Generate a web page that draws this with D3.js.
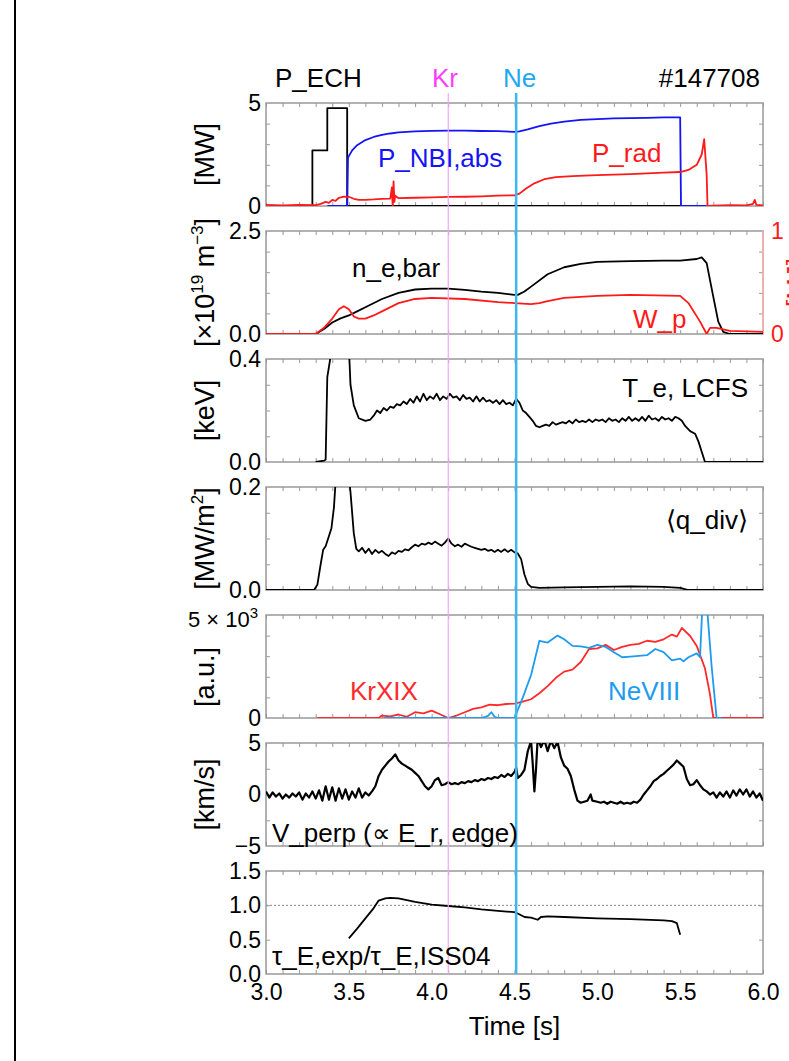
<!DOCTYPE html>
<html>
<head>
<meta charset="utf-8">
<script src="https://d3js.org/d3.v7.min.js"></script>
<style>
  body { margin: 0; background: #fff; }
  svg { display: block; font-family: "Liberation Sans", Arial, sans-serif; }
</style>
</head>
<body>
<div id="chart"></div>
<script>

// ---- data, [time (s), value] ----

const timeDomain = [3, 6];
const timeTicks = [3, 3.5, 4, 4.5, 5, 5.5, 6];
const timeTickLabels = ["3.0", "3.5", "4.0", "4.5", "5.0", "5.5", "6.0"];
const krTime = 4.1;
const neTime = 4.51;

// panel 1 [MW]
const pEch = [[3.28,0],[3.28,2.7],[3.37,2.7],[3.37,4.75],[3.49,4.75],[3.49,0],[5.5,0]];
const pNbi = [[3.37,0],[3.49,0],[3.495,2.35],[3.52,2.7],[3.55,2.95],[3.6,3.2],[3.65,3.35],[3.7,3.45],
  [3.75,3.52],[3.8,3.57],[3.9,3.62],[4.0,3.65],[4.1,3.66],[4.2,3.66],[4.3,3.64],[4.4,3.63],[4.5,3.6],
  [4.53,3.62],[4.58,3.72],[4.65,3.88],[4.72,4.0],[4.8,4.1],[4.9,4.18],[5.0,4.22],[5.1,4.25],[5.2,4.27],
  [5.3,4.28],[5.4,4.3],[5.5,4.3],[5.505,0],[5.66,0]];
const pRad = [[3.0,0.05],[3.1,0.03],[3.2,0.05],[3.3,0.04],[3.33,0.1],[3.36,0.2],[3.38,0.15],[3.4,0.3],
  [3.42,0.25],[3.44,0.4],[3.47,0.45],[3.5,0.45],[3.53,0.35],[3.56,0.3],[3.6,0.3],[3.65,0.32],[3.7,0.35],
  [3.75,0.36],[3.76,0.9],[3.765,-0.1],[3.77,1.2],[3.775,0.2],[3.78,0.5],[3.8,0.38],[3.9,0.4],[4.0,0.42],
  [4.1,0.44],[4.2,0.45],[4.3,0.47],[4.4,0.5],[4.5,0.52],[4.53,0.6],[4.57,0.85],[4.62,1.1],[4.68,1.3],
  [4.75,1.4],[4.85,1.45],[5.0,1.5],[5.1,1.52],[5.2,1.55],[5.3,1.58],[5.4,1.62],[5.5,1.65],[5.55,1.75],
  [5.6,2.0],[5.63,2.5],[5.645,3.25],[5.66,1.5],[5.665,0],[5.7,0.02],[5.8,0.04],[5.9,0.03],[5.94,0.1],
  [5.95,0.3],[5.96,0.05],[6.0,0.03]];

// panel 2 [x10^19 m^-3] and W_p (right axis)
const neBar = [[3.3,0],[3.35,0.12],[3.4,0.28],[3.45,0.38],[3.5,0.45],[3.55,0.55],[3.6,0.65],[3.7,0.85],
  [3.8,1.0],[3.9,1.08],[4.0,1.1],[4.1,1.1],[4.2,1.07],[4.3,1.03],[4.4,1.0],[4.5,0.95],[4.52,0.95],
  [4.56,1.03],[4.6,1.15],[4.7,1.45],[4.8,1.62],[4.9,1.7],[5.0,1.75],[5.2,1.77],[5.4,1.78],[5.5,1.78],
  [5.6,1.82],[5.63,1.86],[5.66,1.72],[5.7,0.9],[5.73,0.3],[5.76,0.05],[5.8,0],[6.0,0]];
const wP = [[3.0,0],[3.3,0],[3.35,0.06],[3.4,0.15],[3.44,0.24],[3.47,0.27],[3.5,0.24],[3.53,0.17],
  [3.56,0.15],[3.6,0.15],[3.65,0.18],[3.7,0.22],[3.8,0.3],[3.9,0.34],[4.0,0.35],[4.2,0.34],[4.4,0.31],
  [4.5,0.3],[4.6,0.29],[4.65,0.3],[4.7,0.32],[4.8,0.35],[5.0,0.37],[5.2,0.38],[5.5,0.37],[5.55,0.3],
  [5.62,0.12],[5.66,0.0],[5.68,0.06],[5.72,0.06],[5.8,0.03],[6.0,0.02]];

// panel 3 [keV]
const teLcfs = [[3.3,0],[3.35,0.005],[3.36,0.01],[3.37,0.33],[3.39,0.41],[3.5,0.45],[3.51,0.3],[3.53,0.22],
  [3.56,0.17],[3.6,0.16],[3.63,0.165],[3.65,0.18],[3.67,0.2],[3.69,0.19],[3.71,0.21],[3.73,0.2],[3.75,0.215],
  [3.77,0.21],[3.79,0.225],[3.81,0.22],[3.83,0.235],[3.85,0.225],[3.87,0.245],[3.89,0.23],[3.91,0.255],[3.93,0.235],
  [3.95,0.265],[3.97,0.24],[3.99,0.255],[4.01,0.245],[4.03,0.265],[4.05,0.24],[4.07,0.255],[4.09,0.245],[4.11,0.265],
  [4.13,0.25],[4.15,0.255],[4.17,0.24],[4.19,0.26],[4.21,0.245],[4.23,0.25],[4.25,0.235],[4.27,0.255],[4.29,0.235],
  [4.31,0.25],[4.33,0.235],[4.35,0.24],[4.37,0.23],[4.39,0.24],[4.41,0.225],[4.43,0.24],[4.45,0.225],[4.47,0.23],
  [4.49,0.22],[4.51,0.245],[4.53,0.23],[4.55,0.2],[4.57,0.19],[4.59,0.175],[4.61,0.16],[4.63,0.14],[4.65,0.135],
  [4.67,0.14],[4.69,0.145],[4.71,0.14],[4.73,0.155],[4.75,0.145],[4.77,0.15],[4.79,0.155],[4.81,0.15],[4.83,0.16],
  [4.85,0.15],[4.87,0.165],[4.89,0.155],[4.91,0.16],[4.93,0.155],[4.95,0.165],[4.97,0.155],[4.99,0.165],
  [5.01,0.16],[5.03,0.165],[5.05,0.155],[5.07,0.17],[5.09,0.16],[5.11,0.165],[5.13,0.155],[5.15,0.17],
  [5.17,0.16],[5.19,0.175],[5.21,0.16],[5.23,0.17],[5.25,0.16],[5.27,0.175],[5.29,0.16],[5.31,0.18],
  [5.33,0.165],[5.35,0.17],[5.37,0.16],[5.39,0.175],[5.41,0.165],[5.43,0.17],[5.45,0.16],[5.47,0.175],
  [5.49,0.17],[5.51,0.16],[5.53,0.14],[5.56,0.12],[5.59,0.11],[5.61,0.08],[5.63,0.04],[5.65,0.0],[6.0,0]];

// panel 4 [MW/m^2]
const qDiv = [[3.0,0],[3.29,0],[3.31,0.01],[3.33,0.05],[3.345,0.078],[3.36,0.085],[3.38,0.105],[3.395,0.12],
  [3.41,0.16],[3.42,0.21],[3.5,0.22],[3.51,0.19],[3.53,0.11],[3.545,0.08],[3.56,0.075],[3.58,0.082],[3.6,0.072],
  [3.62,0.08],[3.64,0.07],[3.66,0.078],[3.68,0.072],[3.7,0.076],[3.72,0.07],[3.74,0.066],[3.76,0.073],[3.78,0.07],
  [3.8,0.076],[3.82,0.074],[3.84,0.079],[3.86,0.077],[3.88,0.083],[3.9,0.088],[3.92,0.085],[3.94,0.09],[3.96,0.088],
  [3.98,0.092],[4.0,0.089],[4.02,0.094],[4.04,0.09],[4.06,0.086],[4.08,0.092],[4.1,0.1],[4.12,0.09],[4.14,0.085],
  [4.16,0.088],[4.18,0.084],[4.2,0.09],[4.22,0.087],[4.24,0.084],[4.26,0.082],[4.28,0.08],[4.3,0.078],[4.32,0.08],
  [4.34,0.076],[4.36,0.078],[4.38,0.074],[4.4,0.078],[4.42,0.074],[4.44,0.079],[4.46,0.074],[4.48,0.078],
  [4.5,0.073],[4.52,0.071],[4.54,0.06],[4.56,0.03],[4.58,0.012],[4.6,0.006],[4.65,0.004],[4.8,0.005],[5.0,0.006],
  [5.2,0.007],[5.4,0.006],[5.5,0.004],[5.55,0.0],[6.0,0]];

// panel 5 [a.u.]
const krXIX = [[3.31,0],[3.68,0],[3.7,120],[3.75,80],[3.8,170],[3.85,60],[3.9,280],[3.95,220],[4.0,360],
  [4.05,180],[4.1,0],[4.15,120],[4.2,280],[4.25,440],[4.3,520],[4.35,650],[4.4,620],[4.45,680],[4.5,700],
  [4.55,800],[4.6,910],[4.65,1200],[4.7,1550],[4.75,1950],[4.8,2250],[4.85,2350],[4.9,2720],[4.95,3350],
  [5.0,3380],[5.05,3550],[5.1,3300],[5.15,3450],[5.2,3550],[5.25,3600],[5.3,3750],[5.35,3700],[5.4,3820],
  [5.45,4050],[5.48,3950],[5.51,4370],[5.56,3980],[5.6,3500],[5.65,2400],[5.68,1150],[5.7,0],[6.0,0]];
const neVIII = [[3.71,0],[4.3,0],[4.34,100],[4.36,280],[4.38,60],[4.4,0],[4.5,0],[4.55,990],[4.6,2090],
  [4.65,3740],[4.7,3660],[4.76,4000],[4.8,3820],[4.85,3500],[4.9,3480],[4.95,3400],[5.0,3550],[5.05,3450],
  [5.1,3190],[5.15,2950],[5.2,2980],[5.3,3050],[5.35,3350],[5.4,3200],[5.45,2800],[5.5,2880],[5.52,2750],
  [5.55,2950],[5.6,3140],[5.62,2950],[5.635,5600],[5.66,5600],[5.69,2500],[5.72,0],[5.75,0]];

// panel 6 [km/s]
const vPerp = [[3.0,0.3],[3.02,-0.3],[3.04,0.2],[3.06,-0.2],[3.08,0.1],[3.1,-0.4],[3.12,0.0],[3.14,-0.3],
  [3.16,0.1],[3.18,-0.2],[3.2,0.2],[3.22,-0.5],[3.24,0.1],[3.26,-0.3],[3.28,0.3],[3.3,-0.4],[3.32,0.4],
  [3.34,-0.6],[3.36,0.8],[3.38,-0.5],[3.4,0.7],[3.42,-0.6],[3.44,0.6],[3.46,-0.4],[3.48,0.5],[3.5,-0.5],
  [3.52,0.3],[3.54,-0.3],[3.56,0.6],[3.58,-0.3],[3.6,0.2],[3.62,-0.1],[3.64,0.3],[3.66,0.8],[3.68,1.8],
  [3.7,2.4],[3.72,2.8],[3.74,3.2],[3.76,3.5],[3.78,3.9],[3.8,3.3],[3.82,3.0],[3.84,2.8],[3.86,2.6],
  [3.88,2.4],[3.9,2.1],[3.92,1.8],[3.94,1.3],[3.96,0.8],[3.98,0.5],[4.0,0.8],[4.02,1.4],[4.04,1.6],
  [4.06,0.9],[4.08,1.0],[4.1,1.2],[4.12,1.0],[4.14,1.1],[4.16,1.0],[4.18,1.2],[4.2,1.1],[4.22,1.3],
  [4.24,1.2],[4.26,1.4],[4.28,1.3],[4.3,1.5],[4.32,1.4],[4.34,1.6],[4.36,1.5],[4.38,1.7],[4.4,1.6],
  [4.42,1.9],[4.44,1.7],[4.46,2.0],[4.48,1.8],[4.5,2.2],[4.51,2.6],[4.52,1.6],[4.54,1.9],[4.56,2.4],
  [4.58,4.2],[4.6,5.2],[4.61,3.0],[4.62,0.3],[4.63,2.5],[4.64,5.5],[4.66,4.6],[4.68,5.3],[4.7,4.2],
  [4.72,5.2],[4.74,4.5],[4.76,5.1],[4.78,3.6],[4.8,2.8],[4.82,2.5],[4.84,1.8],[4.86,0.5],[4.88,-0.6],
  [4.9,-0.8],[4.92,-0.7],[4.94,-0.6],[4.96,0.0],[4.97,-0.6],[5.0,-0.7],[5.02,-0.8],[5.04,-0.7],[5.06,-0.9],
  [5.08,-0.7],[5.1,-0.8],[5.12,-0.9],[5.14,-0.7],[5.16,-0.9],[5.18,-0.8],[5.2,-0.9],[5.22,-0.7],[5.24,-0.8],
  [5.26,-0.5],[5.28,0.0],[5.3,0.4],[5.32,0.8],[5.34,1.3],[5.36,1.5],[5.38,1.8],[5.4,2.0],[5.42,2.3],
  [5.44,2.6],[5.46,2.9],[5.48,3.3],[5.5,3.0],[5.52,2.7],[5.54,1.5],[5.56,0.9],[5.58,1.0],[5.6,1.4],
  [5.62,0.9],[5.64,0.5],[5.66,0.3],[5.68,0.0],[5.7,0.2],[5.72,-0.3],[5.74,0.2],[5.76,-0.2],[5.78,0.3],
  [5.8,-0.3],[5.82,0.4],[5.84,-0.1],[5.86,0.5],[5.88,0.0],[5.9,0.5],[5.92,-0.2],[5.94,0.3],[5.96,-0.3],
  [5.98,0.1],[6.0,-0.6]];

// panel 7 tau_E ratio
const tauRatio = [[3.5,0.52],[3.55,0.66],[3.6,0.81],[3.65,0.96],[3.68,1.07],[3.72,1.1],[3.75,1.11],
  [3.8,1.1],[3.9,1.05],[4.0,1.01],[4.1,0.99],[4.2,0.97],[4.3,0.94],[4.4,0.92],[4.5,0.9],[4.52,0.88],
  [4.56,0.83],[4.6,0.82],[4.64,0.79],[4.66,0.83],[4.7,0.84],[4.8,0.83],[5.0,0.81],[5.2,0.8],[5.4,0.78],
  [5.45,0.77],[5.48,0.74],[5.5,0.57]];

// ---- layout ----
const W = 789, H = 1061;
const plotLeft = 266, plotRight = 763;
const panelTop0 = 103, panelH = 103, pitch = 128;
const gray = "#999";
const tickFont = 23, noteFont = 26, titleFont = 27;

const svg = d3.select("#chart").append("svg")
  .attr("width", W).attr("height", H);

// outer left rule
svg.append("line").attr("x1", 15).attr("x2", 15).attr("y1", 0).attr("y2", H)
  .attr("stroke", "#000").attr("stroke-width", 2);

const x = d3.scaleLinear().domain(timeDomain).range([plotLeft, plotRight]);
const minorTime = d3.range(30, 61).map(d => d / 10);

const panels = [
  { yDomain: [0, 5], yTicks: [1, 2, 3, 4], yLabels: [[0, "0"], [5, "5"]],
    series: [{ data: pEch, color: "#000" }, { data: pNbi, color: "#1414f5" }, { data: pRad, color: "#ff1a1a" }] },
  { yDomain: [0, 2.5], yTicks: [0.5, 1, 1.5, 2], yLabels: [[0, "0.0"], [2.5, "2.5"]],
    right: { domain: [0, 1], ticks: [0.2, 0.4, 0.6, 0.8], labels: [[0, "0"], [1, "1"]], color: "#ff1a1a" },
    series: [{ data: neBar, color: "#000" }, { data: wP, color: "#ff1a1a", right: true }] },
  { yDomain: [0, 0.4], yTicks: [0.1, 0.2, 0.3], yLabels: [[0, "0.0"], [0.4, "0.4"]],
    series: [{ data: teLcfs, color: "#000" }] },
  { yDomain: [0, 0.2], yTicks: [0.05, 0.1, 0.15], yLabels: [[0, "0.0"], [0.2, "0.2"]],
    series: [{ data: qDiv, color: "#000" }] },
  { yDomain: [0, 5000], yTicks: [1000, 2000, 3000, 4000], yLabels: [[0, "0"]],
    series: [{ data: krXIX, color: "#ff2a2a" }, { data: neVIII, color: "#1e9bef" }] },
  { yDomain: [-5, 5], yTicks: [-2.5, 0, 2.5], yLabels: [[-5, "\u22125"], [0, "0"], [5, "5"]],
    series: [{ data: vPerp, color: "#000", width: 2.2 }] },
  { yDomain: [0, 1.5], yTicks: [0.5, 1], yLabels: [[0, "0.0"], [0.5, "0.5"], [1, "1.0"], [1.5, "1.5"]],
    refLine: 1, series: [{ data: tauRatio, color: "#000" }] }
];

const defs = svg.append("defs");
const line = d3.line();

panels.forEach(function (p, i) {
  const top = panelTop0 + i * pitch, bottom = top + panelH;
  const y = d3.scaleLinear().domain(p.yDomain).range([bottom, top]);
  const yR = p.right ? d3.scaleLinear().domain(p.right.domain).range([bottom, top]) : null;
  const g = svg.append("g");

  defs.append("clipPath").attr("id", "clip" + i)
    .append("rect").attr("x", plotLeft).attr("y", top)
    .attr("width", plotRight - plotLeft).attr("height", panelH);

  if (p.refLine !== undefined) {
    g.append("line").attr("x1", plotLeft).attr("x2", plotRight)
      .attr("y1", y(p.refLine)).attr("y2", y(p.refLine))
      .attr("stroke", "#888").attr("stroke-dasharray", "2,2");
  }

  // inward ticks on all four sides
  const tickStyle = sel => { sel.select(".domain").remove(); sel.selectAll("line").attr("stroke", gray); };
  g.append("g").attr("transform", "translate(0," + bottom + ")")
    .call(d3.axisBottom(x).tickValues(minorTime).tickSize(-4).tickFormat("")).call(tickStyle);
  g.append("g").attr("transform", "translate(0," + top + ")")
    .call(d3.axisTop(x).tickValues(minorTime).tickSize(-4).tickFormat("")).call(tickStyle);
  g.append("g").attr("transform", "translate(" + plotLeft + ",0)")
    .call(d3.axisLeft(y).tickValues(p.yTicks).tickSize(-4).tickFormat("")).call(tickStyle);
  g.append("g").attr("transform", "translate(" + plotRight + ",0)")
    .call(d3.axisRight(yR || y).tickValues(p.right ? p.right.ticks : p.yTicks).tickSize(-4).tickFormat(""))
    .call(tickStyle);

  g.append("rect").attr("x", plotLeft).attr("y", top)
    .attr("width", plotRight - plotLeft).attr("height", panelH)
    .attr("fill", "none").attr("stroke", gray).attr("stroke-width", 1.5);

  if (p.right) {
    g.append("line").attr("x1", plotRight).attr("x2", plotRight).attr("y1", top).attr("y2", bottom)
      .attr("stroke", "#ffb0b0").attr("stroke-width", 1.5);
    g.append("g").attr("transform", "translate(" + plotRight + ",0)")
      .call(d3.axisRight(yR).tickValues(p.right.labels.map(d => d[0]))
        .tickFormat((d, k) => p.right.labels[k][1]).tickSize(0).tickPadding(8))
      .call(sel => sel.select(".domain").remove())
      .selectAll("text").attr("fill", p.right.color).attr("font-size", tickFont)
      .attr("font-family", "Liberation Sans, Arial, sans-serif");
  }

  // left tick labels
  g.append("g").attr("transform", "translate(" + plotLeft + ",0)")
    .call(d3.axisLeft(y).tickValues(p.yLabels.map(d => d[0]))
      .tickFormat((d, k) => p.yLabels[k][1]).tickSize(0).tickPadding(5))
    .call(sel => sel.select(".domain").remove())
    .selectAll("text").attr("fill", "#000").attr("font-size", tickFont)
    .attr("font-family", "Liberation Sans, Arial, sans-serif");

  const clipped = g.append("g").attr("clip-path", "url(#clip" + i + ")");
  p.series.forEach(function (s) {
    const ys = s.right ? yR : y;
    clipped.append("path")
      .attr("d", line.x(d => x(d[0])).y(d => ys(d[1]))(s.data))
      .attr("fill", "none").attr("stroke", s.color)
      .attr("stroke-width", s.width || 1.8).attr("stroke-linejoin", "round");
  });

  p.top = top; p.bottom = bottom;
});

// time axis labels on the bottom panel
const lastBottom = panels[6].bottom;
svg.append("g").attr("transform", "translate(0," + lastBottom + ")")
  .call(d3.axisBottom(x).tickValues(timeTicks).tickFormat((d, k) => timeTickLabels[k]).tickSize(0).tickPadding(10))
  .call(sel => sel.select(".domain").remove())
  .selectAll("text").attr("font-size", tickFont).attr("fill", "#000")
  .attr("font-family", "Liberation Sans, Arial, sans-serif");

svg.append("text").attr("x", (plotLeft + plotRight) / 2).attr("y", lastBottom + 61)
  .attr("text-anchor", "middle").attr("font-size", noteFont).text("Time [s]");

// impurity injection times
svg.append("line").attr("x1", x(krTime)).attr("x2", x(krTime))
  .attr("y1", 93).attr("y2", lastBottom)
  .attr("stroke", "#f0a6f0").attr("stroke-width", 1.2);
svg.append("line").attr("x1", x(neTime)).attr("x2", x(neTime))
  .attr("y1", 93).attr("y2", lastBottom)
  .attr("stroke", "#3cb8f0").attr("stroke-width", 2.5);

// annotations
function note(px, py, str, color, anchor) {
  return svg.append("text").attr("x", px).attr("y", py)
    .attr("font-size", noteFont).attr("fill", color || "#000")
    .attr("text-anchor", anchor || "start").text(str);
}
note(275, 87, "P_ECH");
note(432, 87, "Kr", "#ff3cff");
note(503, 87, "Ne", "#22a8f0");
note(760, 87, "#147708", "#000", "end");
note(378, 167, "P_NBI,abs", "#1414f5");
note(592, 162, "P_rad", "#ff1a1a");
note(352, 277, "n_e,bar");
note(633, 328, "W_p", "#ff1a1a");
note(748, 397, "T_e, LCFS", "#000", "end");
note(748, 529, "\u27E8q_div\u27E9", "#000", "end");
note(350, 700, "KrXIX", "#ff2a2a");
note(608, 700, "NeVIII", "#1e9bef");
note(272, 842, "V_perp (\u221D E_r, edge)");
note(272, 965, "\u03C4_E,exp/\u03C4_E,ISS04");

// top label of panel 5: 5 x 10^3
const p5 = svg.append("text").attr("x", 258).attr("y", panels[4].top + 12)
  .attr("text-anchor", "end").attr("font-size", tickFont - 1);
p5.append("tspan").text("5 \u00D7 10");
p5.append("tspan").attr("dy", -9).attr("font-size", 15).text("3");

// rotated y-axis titles
function yTitle(cy, parts, color) {
  const t = svg.append("text")
    .attr("transform", "translate(214," + cy + ") rotate(-90)")
    .attr("text-anchor", "middle").attr("font-size", titleFont).attr("fill", color || "#000");
  parts.forEach(function (pt) {
    const s = t.append("tspan").text(pt[0]);
    if (pt[1] === "sup") s.attr("dy", -11).attr("font-size", 17);
    if (pt[1] === "base") s.attr("dy", 11);
  });
  return t;
}
yTitle(panels[0].top + panelH / 2, [["[MW]"]]);
yTitle(panels[1].top + panelH / 2, [["[\u00D710"], ["19", "sup"], [" m", "base"], ["\u22123", "sup"], ["]", "base"]]);
yTitle(panels[2].top + panelH / 2, [["[keV]"]]);
yTitle(panels[3].top + panelH / 2, [["[MW/m"], ["2", "sup"], ["]", "base"]]);
yTitle(panels[4].top + 62, [["[a.u.]"]]);
yTitle(panels[5].top + panelH / 2, [["[km/s]"]]);

// right axis title of panel 2, mostly outside the frame as in the figure
svg.append("text")
  .attr("transform", "translate(805," + (panels[1].top + panelH / 2) + ") rotate(-90)")
  .attr("text-anchor", "middle").attr("font-size", noteFont).attr("fill", "#ff1a1a").text("[MJ]");

</script>
</body>
</html>
